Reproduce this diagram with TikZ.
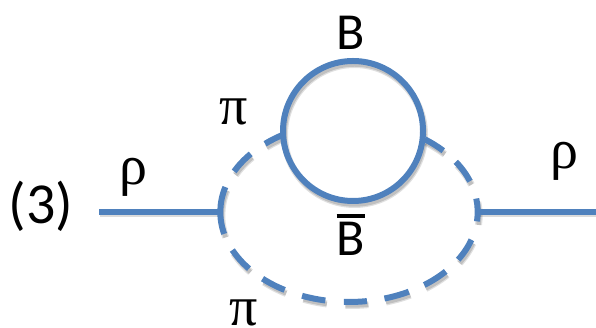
\documentclass[tikz,border=0pt]{standalone}
\usepackage{fontspec}
\setmainfont{Carlito}
\newfontfamily\greekfont{Liberation Serif}
\definecolor{lineblue}{HTML}{4F81BD}
\tikzset{
  x=1pt,y=1pt,
  blue line/.style={draw=lineblue,line width=6pt},
  soft shadow/.style={draw=black,opacity=0.12,line width=7pt},
  soft shadow two/.style={draw=black,opacity=0.14,line width=4.5pt},
  label text/.style={inner sep=0pt,text=black,font=\fontsize{52}{52}\selectfont},
  big text/.style={inner sep=0pt,text=black,font=\fontsize{58}{58}\selectfont},
  greek text/.style={inner sep=0pt,text=black,font=\fontsize{56}{56}\greekfont},
}
\begin{document}
\begin{tikzpicture}
\useasboundingbox (0,0) rectangle (596,328);
\coordinate (ell) at (349,116);
\coordinate (loop) at (353,197);
\coordinate (inL) at (99,116);
\coordinate (inR) at (220,116);
\coordinate (outL) at (478,116);
\coordinate (outR) at (596,116);
\def\dashlist{121/130.7,139.8/153.2,163.9/194.1,205/219,227.8/240,248.6/259.4,267.7/278,286/297.7,305.8/318.7,328/342,354/368.6,380/393.9,402.9/414}
% shadows
\foreach \s/\e in \dashlist {
  \draw[soft shadow] ([shift={(1.5,-3.5)}]ell) ++(\s:128.7 and 90) arc[start angle=\s,end angle=\e,x radius=128.7,y radius=90];
  \draw[soft shadow two] ([shift={(1.5,-3.5)}]ell) ++(\s:128.7 and 90) arc[start angle=\s,end angle=\e,x radius=128.7,y radius=90];
}
\draw[soft shadow] ([shift={(1.5,-3.5)}]loop) circle[radius=70];
\draw[soft shadow two] ([shift={(1.5,-3.5)}]loop) circle[radius=70];
\draw[soft shadow two] ([shift={(1,-2.5)}]inL) -- ([shift={(1,-2.5)}]inR);
\draw[soft shadow two] ([shift={(1,-2.5)}]outL) -- ([shift={(1,-2.5)}]outR);
% lines
\foreach \s/\e in \dashlist {
  \draw[blue line] (ell) ++(\s:128.7 and 90) arc[start angle=\s,end angle=\e,x radius=128.7,y radius=90];
}
\draw[blue line] (loop) circle[radius=70];
\draw[blue line] (inL) -- (inR);
\draw[blue line] (outL) -- (outR);
% labels
\node[big text] (n3) at (41,122) {(3)};
\node[label text] (nB) at (351,295) {B};
\node[label text] (nBb) at (351,89) {B};
\draw[black,line width=4pt] ([yshift=6pt]nBb.north west) -- ([yshift=6pt]nBb.north east);
\node[greek text] (rhoL) at (133,151) {ρ};
\node[greek text] (rhoR) at (564,167) {ρ};
\node[greek text] (piT) at (234,216) {π};
\node[greek text] (piB) at (244,15) {π};
\end{tikzpicture}
\end{document}
